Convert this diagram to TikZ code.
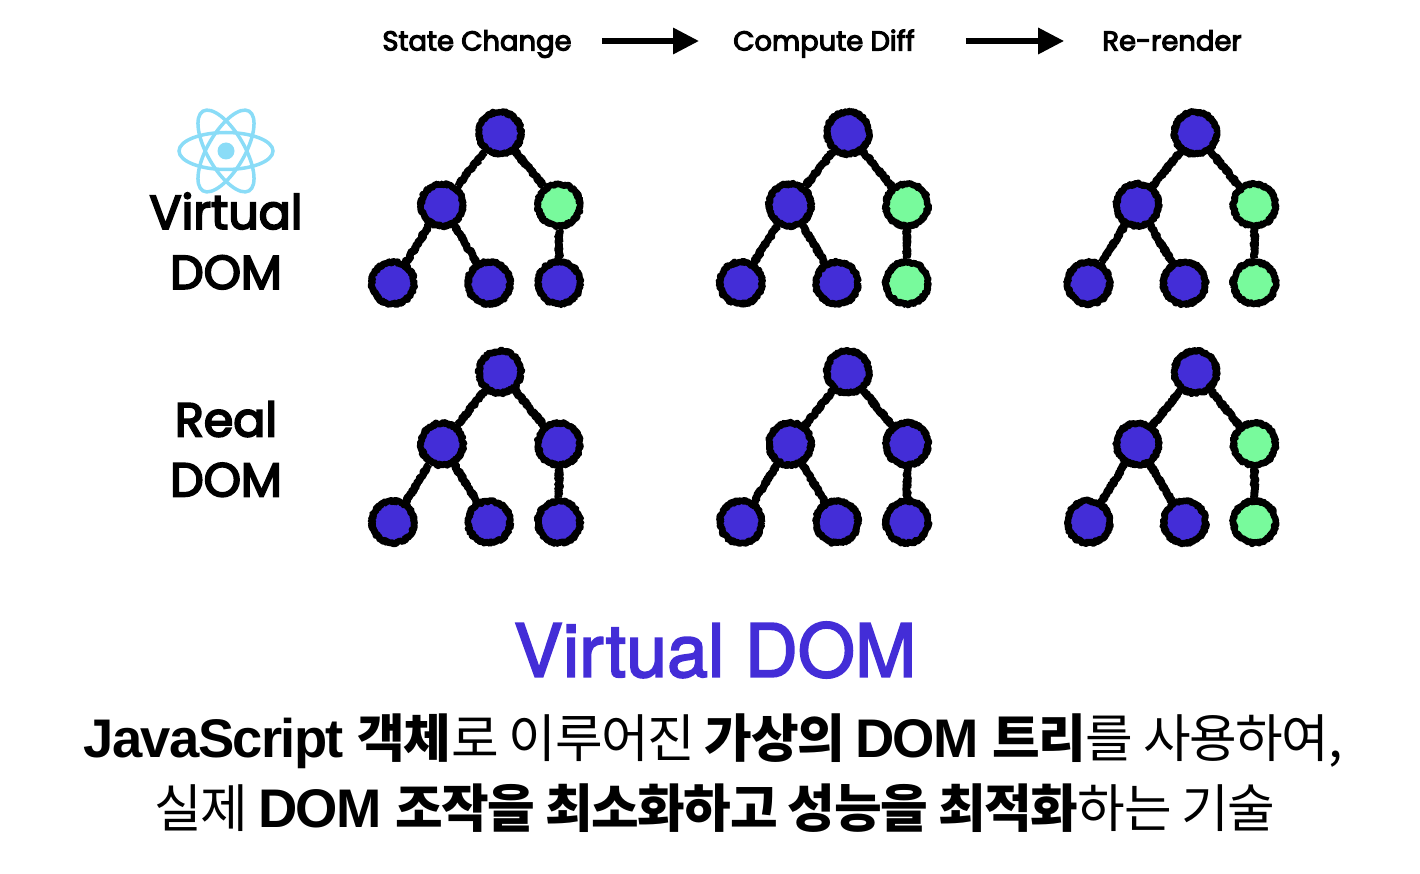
\documentclass[tikz,border=0pt]{standalone}
\usepackage{fontspec}
\usepackage{tikz}
\usetikzlibrary{arrows.meta,decorations.pathmorphing}
\setmainfont{Liberation Sans}
\newfontfamily\labelfont{Poppins}[FakeBold=4]
\newfontfamily\headfont{TeX Gyre Heros}[FakeBold=2.5]
\newfontfamily\cjk{Noto Sans CJK KR}[LetterSpace=-3]
\newcommand{\boldrun}[1]{{\fontspec{Liberation Sans}[LetterSpace=-3,Scale=1.05]\bfseries #1}}
\newcommand{\boldko}[1]{{\cjk\bfseries #1}}
\definecolor{treeblue}{HTML}{432DD7}
\definecolor{treegreen}{HTML}{78FA9C}
\definecolor{reactblue}{HTML}{8ADCF7}

\begin{document}
\begin{tikzpicture}[x=1pt,y=-1pt,
		rough/.style={line join=round,decorate,decoration={random steps,segment length=1pt,amplitude=1.2pt}},
		treevertex/.style={circle,draw,rough,line width=6.5pt,minimum size=42pt,inner sep=0pt},
		treeedge/.style={rough,line width=7.5pt},
		steplabel/.style={font=\labelfont\fontsize{27.4}{27.4}\selectfont,inner sep=0pt,text height=24pt,text depth=5pt},
		rowlabel/.style={font=\labelfont\fontsize{47.5}{60}\selectfont,align=center,inner sep=0pt},
		steparrow/.style={line width=6pt,-{Triangle[length=26pt,width=25pt]}},
		reactorbit/.style={draw=reactblue,line width=3.5pt}
		]
		\useasboundingbox (0,0) rectangle (1420,874);

		\node[steplabel](state) at (477,41){State Change};
		\node[steplabel](diff) at (824,41){Compute Diff};
		\node[steplabel](render) at (1172,41){Re-render};
		\draw[steparrow, shorten <=30pt, shorten >=34pt] (state.east) -- (diff.west);
		\draw[steparrow, shorten <=51pt, shorten >=38pt] (diff.east) -- (render.west);

		\draw[reactorbit] (226,151) ellipse [x radius=47, y radius=18.5];
		\draw[reactorbit, rotate around={60:(226,151)}] (226,151) ellipse [x radius=46, y radius=18.5];
		\draw[reactorbit, rotate around={120:(226,151)}] (226,151) ellipse [x radius=46, y radius=18.5];
		\fill[reactblue] (226,151) circle (8.5);

		\node[rowlabel](virtual) at (226,241){Virtual\\DOM};
		\node[rowlabel](real) at (226,449){Real\\DOM};

		\foreach \n/\x/\y/\cr/\cb in {a/500/133/treegreen/treeblue, b/848/133/treegreen/treegreen, c/1195.5/133/treegreen/treegreen,
			d/500/372/treeblue/treeblue, e/848/372/treeblue/treeblue, f/1195.5/372/treegreen/treegreen}{
			\node[treevertex, fill=treeblue](\n0) at (\x,\y){};
			\node[treevertex, fill=treeblue, below of = \n0, node distance=72pt, xshift=-58pt](\n1){};
			\node[treevertex, fill=\cr, below of = \n0, node distance=72pt, xshift=59pt](\n2){};
			\node[treevertex, fill=treeblue, below of = \n1, node distance=78pt, xshift=-49pt](\n3){};
			\node[treevertex, fill=treeblue, below of = \n1, node distance=78pt, xshift=47pt](\n4){};
			\node[treevertex, fill=\cb, below of = \n2, node distance=78pt](\n5){};
			\draw[treeedge] (\n0) -- (\n1);
			\draw[treeedge] (\n0) -- (\n2);
			\draw[treeedge] (\n1) -- (\n3);
			\draw[treeedge] (\n1) -- (\n4);
			\draw[treeedge] (\n2) -- (\n5);
		}

		\node[font=\headfont\fontsize{73.5}{73.5}\selectfont, text=treeblue, inner sep=0pt](title) at (715,650){Virtual DOM};
		\node[font=\fontsize{51.8}{51.8}\selectfont, inner sep=0pt](lineone) at (713,741){\boldrun{JavaScript }\boldko{객체}{\cjk 로 이루어진 }\boldko{가상의 }\boldrun{DOM }\boldko{트리}{\cjk 를 사용하여,}};
		\node[font=\fontsize{51.8}{51.8}\selectfont, inner sep=0pt](linetwo) at (715,808){{\cjk 실제 }\boldrun{DOM }\boldko{조작을 최소화하고 성능을 최적화}{\cjk 하는 기술}};
	\end{tikzpicture}
\end{document}
